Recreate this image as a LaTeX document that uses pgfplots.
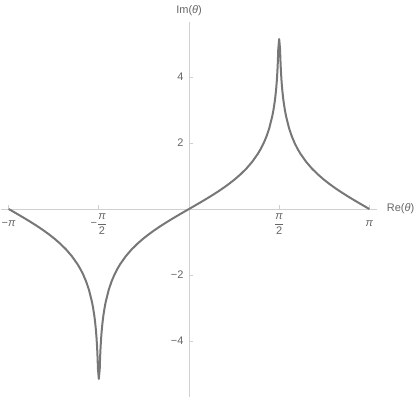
\documentclass[border=0pt]{standalone}
\usepackage{fontspec}
\setmainfont{Liberation Sans}
\usepackage{pgfplots}
\pgfplotsset{compat=1.18}
\definecolor{axgray}{HTML}{D0D0D0}
\definecolor{txtgray}{HTML}{666666}
\definecolor{curvegray}{HTML}{777777}
\pgfplotstableread{
x y
-3.1416 0
-3.0416 -0.1002
-2.9416 -0.2013
-2.8416 -0.3046
-2.7416 -0.4111
-2.6416 -0.5222
-2.5416 -0.6396
-2.4416 -0.7654
-2.3416 -0.9022
-2.2416 -1.0539
-2.1416 -1.2262
-2.0416 -1.4278
-1.9416 -1.6737
-1.8916 -1.8215
-1.8416 -1.9934
-1.7916 -2.1995
-1.7416 -2.4580
-1.6916 -2.8056
-1.6716 -2.9870
-1.6516 -3.2084
-1.6416 -3.3407
-1.6316 -3.4931
-1.6216 -3.6729
-1.6116 -3.8922
-1.6016 -4.1735
-1.5966 -4.3506
-1.5916 -4.5661
-1.5866 -4.8409
-1.5708 -5.15
-1.555 -4.8409
-1.55 -4.5661
-1.545 -4.3506
-1.54 -4.1735
-1.53 -3.8922
-1.52 -3.6729
-1.51 -3.4931
-1.5 -3.3407
-1.49 -3.2084
-1.47 -2.9870
-1.45 -2.8056
-1.4 -2.4580
-1.35 -2.1995
-1.3 -1.9934
-1.25 -1.8215
-1.2 -1.6737
-1.1 -1.4278
-1.0 -1.2262
-0.9 -1.0539
-0.8 -0.9022
-0.7 -0.7654
-0.6 -0.6396
-0.5 -0.5222
-0.4 -0.4111
-0.3 -0.3046
-0.2 -0.2013
-0.1 -0.1002
0 0
0.1 0.1002
0.2 0.2013
0.3 0.3046
0.4 0.4111
0.5 0.5222
0.6 0.6396
0.7 0.7654
0.8 0.9022
0.9 1.0539
1.0 1.2262
1.1 1.4278
1.2 1.6737
1.25 1.8215
1.3 1.9934
1.35 2.1995
1.4 2.4580
1.45 2.8056
1.47 2.9870
1.49 3.2084
1.5 3.3407
1.51 3.4931
1.52 3.6729
1.53 3.8922
1.54 4.1735
1.545 4.3506
1.55 4.5661
1.555 4.8409
1.5708 5.15
1.5866 4.8409
1.5916 4.5661
1.5966 4.3506
1.6016 4.1735
1.6116 3.8922
1.6216 3.6729
1.6316 3.4931
1.6416 3.3407
1.6516 3.2084
1.6716 2.9870
1.6916 2.8056
1.7416 2.4580
1.7916 2.1995
1.8416 1.9934
1.8916 1.8215
1.9416 1.6737
2.0416 1.4278
2.1416 1.2262
2.2416 1.0539
2.3416 0.9022
2.4416 0.7654
2.5416 0.6396
2.6416 0.5222
2.7416 0.4111
2.8416 0.3046
2.9416 0.2013
3.0416 0.1002
3.1416 0
}\curvedata
\begin{document}
\begin{tikzpicture}
\begin{axis}[
  x=57.4pt, y=33pt,
  axis lines=middle,
  axis line style={-, axgray, line width=1pt},
  xmin=-3.28, xmax=3.28,
  ymin=-5.7, ymax=5.67,
  xtick={-3.14159,-1.5708,1.5708,3.14159},
  xticklabels={{\rule{0pt}{13pt}−\textit{π}}, {−$\displaystyle\frac{\mbox{\textit{π}}}{\mbox{2}}$}, {$\displaystyle\frac{\mbox{\textit{π}}}{\mbox{2}}$}, {\rule{0pt}{13pt}\textit{π}}},
  ytick={-4,-2,2,4},
  yticklabels={−4,−2,2,4},
  tick style={axgray, line width=0.8pt},
  major tick length=4pt,
  tick align=inside,
  tick label style={font=\fontsize{11}{13}\selectfont, text=txtgray},
  xticklabel style={anchor=north, yshift=-1pt},
  yticklabel style={anchor=east, xshift=-2pt},
  xlabel={Re(\textit{θ})},
  ylabel={Im(\textit{θ})},
  label style={font=\fontsize{11}{13}\selectfont, text=txtgray},
  xlabel style={at={(current axis.right of origin)}, anchor=west, xshift=6pt},
  ylabel style={at={(current axis.above origin)}, anchor=south, yshift=3pt},
  clip=false,
]
\addplot[curvegray, line width=2pt, line join=round] table {\curvedata};
\coordinate (O) at (axis cs:0,0);
\end{axis}
\pgfresetboundingbox
\path[use as bounding box, shift={(O)}] (-189pt,-191pt) rectangle (226pt,209pt);
\end{tikzpicture}
\end{document}
